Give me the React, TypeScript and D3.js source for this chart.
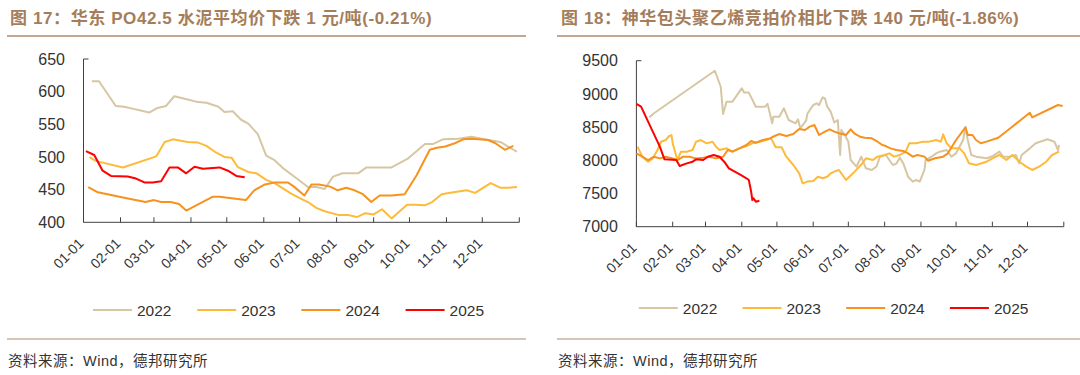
import React from "react";
import * as d3 from "d3";

const YEAR = 2001;
const seriesNames = ["2022", "2023", "2024", "2025"];
const seriesColors = ["#D7C6A3", "#FDBA3B", "#F7921E", "#FF0000"];
const monthLabels = ["01-01", "02-01", "03-01", "04-01", "05-01", "06-01", "07-01", "08-01", "09-01", "10-01", "11-01", "12-01"];

const cementTitle = "图 17：华东 PO42.5 水泥平均价下跌 1 元/吨(-0.21%)";
const peTitle = "图 18：神华包头聚乙烯竞拍价相比下跌 140 元/吨(-1.86%)";
const sourceText = "资料来源：Wind，德邦研究所";

const cementTicks = [400, 450, 500, 550, 600, 650];
const peTicks = [7000, 7500, 8000, 8500, 9000, 9500];

type Pt = [string, number];

const cement2022: Pt[] = [
  ["01-08", 616], ["01-14", 616], ["01-28", 578], ["02-04", 577], ["02-11", 574], ["02-25", 568],
  ["03-04", 575], ["03-11", 578], ["03-18", 593], ["03-25", 590], ["04-07", 584], ["04-14", 583],
  ["04-24", 577], ["04-29", 569], ["05-06", 570], ["05-13", 557], ["05-19", 551], ["05-27", 535],
  ["06-03", 502], ["06-10", 495], ["06-17", 483], ["06-25", 472], ["07-08", 454], ["07-15", 454],
  ["07-22", 451], ["07-29", 470], ["08-06", 475], ["08-19", 475], ["08-26", 484], ["09-16", 484],
  ["09-23", 491], ["09-30", 498], ["10-14", 520], ["10-21", 520], ["10-29", 527], ["11-11", 528],
  ["11-22", 531], ["12-06", 526], ["12-16", 523], ["12-30", 508],
];
const cement2023: Pt[] = [
  ["01-06", 500], ["01-11", 494], ["02-03", 484], ["03-03", 501], ["03-10", 523], ["03-17", 527],
  ["03-29", 523], ["04-07", 522], ["04-14", 517], ["04-21", 508], ["04-29", 500], ["05-05", 499],
  ["05-10", 485], ["05-19", 477], ["05-26", 475], ["06-03", 465], ["06-10", 460], ["06-17", 452],
  ["06-24", 444], ["07-01", 437], ["07-08", 431], ["07-15", 422], ["07-22", 417], ["08-03", 411],
  ["08-11", 411], ["08-18", 408], ["08-25", 414], ["09-01", 412], ["09-08", 420], ["09-16", 406],
  ["09-29", 427], ["10-06", 427], ["10-14", 426], ["10-20", 431], ["10-28", 443], ["11-03", 445],
  ["11-11", 447], ["11-18", 449], ["11-25", 445], ["12-08", 460], ["12-16", 453], ["12-23", 453],
  ["12-30", 454],
];
const cement2024: Pt[] = [
  ["01-05", 454], ["01-13", 446], ["02-03", 438], ["02-22", 431], ["03-01", 434], ["03-07", 431],
  ["03-15", 431], ["03-22", 428], ["03-28", 418], ["04-19", 439], ["04-25", 439], ["05-17", 434],
  ["05-24", 449], ["06-02", 458], ["06-10", 461], ["06-21", 461], ["06-26", 455], ["07-05", 441],
  ["07-11", 458], ["07-17", 458], ["07-26", 455], ["08-02", 449], ["08-09", 453], ["08-16", 449],
  ["08-23", 443], ["08-30", 431], ["09-06", 441], ["09-16", 441], ["09-27", 443], ["10-07", 472],
  ["10-18", 511], ["10-24", 514], ["10-31", 516], ["11-08", 521], ["11-15", 527], ["11-22", 528],
  ["12-06", 526], ["12-12", 521], ["12-20", 511], ["12-27", 517],
];
const cement2025: Pt[] = [
  ["01-03", 509], ["01-10", 503], ["01-17", 479], ["01-24", 471], ["02-07", 470], ["02-14", 467],
  ["02-21", 461], ["02-28", 461], ["03-07", 463], ["03-14", 484], ["03-21", 484], ["03-28", 475],
  ["04-04", 485], ["04-11", 482], ["04-25", 484], ["05-02", 479], ["05-09", 471], ["05-16", 469],
];

const pe2022: Pt[] = [
  ["01-12", 8647], ["01-16", 8708], ["03-09", 9349], ["03-14", 9108], ["03-15", 8908], ["03-16", 8697],
  ["03-19", 8883], ["03-24", 8883], ["04-01", 9084], ["04-03", 9020], ["04-07", 9020], ["04-13", 8807],
  ["04-21", 8807], ["04-23", 8850], ["04-27", 8557], ["04-28", 8657], ["05-03", 8657], ["05-07", 8783],
  ["05-11", 8607], ["05-17", 8557], ["05-19", 8617], ["05-21", 8482], ["05-26", 8600], ["05-27", 8700],
  ["06-01", 8833], ["06-04", 8858], ["06-06", 8830], ["06-09", 8949], ["06-11", 8933], ["06-13", 8808],
  ["06-16", 8730], ["06-19", 8570], ["06-22", 8607], ["06-24", 8080], ["06-25", 8456], ["06-28", 8380],
  ["07-01", 8280], ["07-03", 8004], ["07-08", 7904], ["07-12", 8054], ["07-16", 7879], ["07-21", 7854],
  ["07-25", 7904], ["07-28", 8054], ["08-02", 8080], ["08-08", 7929], ["08-11", 7950], ["08-14", 8040],
  ["08-17", 7950], ["08-21", 7753], ["08-25", 7678], ["08-28", 7703], ["08-31", 7678], ["09-04", 7854],
  ["09-05", 8004], ["09-10", 8054], ["09-14", 8105], ["09-17", 8130], ["09-23", 8155], ["09-27", 8055],
  ["10-01", 8105], ["10-07", 8306], ["10-09", 8497], ["10-11", 8306], ["10-14", 8080], ["10-18", 8055],
  ["10-27", 8030], ["11-01", 8060], ["11-07", 8130], ["11-10", 8055], ["11-16", 8055], ["11-21", 8080],
  ["11-24", 7955], ["11-26", 8080], ["12-03", 8180], ["12-08", 8256], ["12-18", 8316], ["12-24", 8280],
  ["12-27", 8155], ["12-28", 8230],
];
const pe2023: Pt[] = [
  ["01-02", 8205], ["01-04", 8130], ["01-06", 8054], ["01-11", 7979], ["01-15", 8029], ["01-19", 8155],
  ["01-22", 8280], ["01-26", 8305], ["01-29", 8366], ["01-31", 8380], ["02-01", 8255], ["02-03", 8130],
  ["02-05", 8004], ["02-08", 8130], ["02-13", 8130], ["02-18", 8155], ["02-21", 8280], ["02-25", 8305],
  ["03-02", 8255], ["03-07", 8280], ["03-10", 8205], ["03-13", 8155], ["03-19", 8180], ["03-24", 8130],
  ["03-30", 8180], ["04-05", 8215], ["04-10", 8255], ["04-16", 8280], ["04-22", 8305], ["04-26", 8330],
  ["04-30", 8196], ["05-05", 8196], ["05-09", 8054], ["05-15", 7929], ["05-20", 7804], ["05-23", 7653],
  ["05-27", 7679], ["06-01", 7690], ["06-05", 7753], ["06-09", 7729], ["06-13", 7753], ["06-16", 7804],
  ["06-19", 7829], ["06-23", 7854], ["06-26", 7779], ["06-29", 7704], ["07-05", 7804], ["07-09", 7879],
  ["07-13", 7955], ["07-16", 8030], ["07-22", 8005], ["07-26", 8055], ["08-01", 8080], ["08-05", 8105],
  ["08-09", 8055], ["08-14", 8080], ["08-19", 8130], ["08-22", 8256], ["08-28", 8256], ["09-03", 8281],
  ["09-08", 8281], ["09-14", 8306], ["09-18", 8280], ["09-20", 8391], ["09-23", 8256], ["09-27", 8180],
  ["10-04", 8180], ["10-08", 8105], ["10-12", 7955], ["10-18", 7929], ["10-27", 7979], ["11-01", 8030],
  ["11-07", 8080], ["11-13", 8005], ["11-18", 8080], ["11-24", 7979], ["11-30", 7904], ["12-05", 7854],
  ["12-11", 7904], ["12-17", 7979], ["12-22", 8080], ["12-28", 8130],
];
const pe2024: Pt[] = [
  ["01-01", 8105], ["01-06", 8054], ["01-11", 8004], ["01-16", 8054], ["01-21", 8029], ["01-26", 8054],
  ["02-01", 8029], ["02-05", 8004], ["02-10", 8054], ["02-15", 8054], ["02-21", 8029], ["02-27", 8040],
  ["03-04", 8054], ["03-10", 8029], ["03-16", 8054], ["03-20", 8155], ["03-24", 8130], ["03-30", 8180],
  ["04-05", 8230], ["04-09", 8290], ["04-13", 8265], ["04-19", 8305], ["04-25", 8330], ["04-29", 8366],
  ["05-03", 8395], ["05-09", 8366], ["05-15", 8395], ["05-20", 8470], ["05-25", 8457], ["05-29", 8507],
  ["06-02", 8532], ["06-06", 8381], ["06-11", 8432], ["06-15", 8467], ["06-19", 8432], ["06-23", 8407],
  ["06-29", 8381], ["07-03", 8467], ["07-06", 8407], ["07-11", 8355], ["07-15", 8341], ["07-21", 8331],
  ["07-26", 8280], ["07-30", 8230], ["08-02", 8215], ["08-06", 8180], ["08-11", 8155], ["08-17", 8140],
  ["08-21", 8105], ["08-25", 8055], ["08-29", 8080], ["09-04", 8055], ["09-07", 7994], ["09-13", 8030],
  ["09-20", 8055], ["09-24", 8105], ["10-01", 8306], ["10-09", 8497], ["10-11", 8381], ["10-15", 8381],
  ["10-18", 8306], ["10-22", 8256], ["10-27", 8281], ["11-06", 8340], ["11-18", 8506], ["12-03", 8717],
  ["12-05", 8647], ["12-27", 8833], ["12-31", 8818],
];
const pe2025: Pt[] = [
  ["01-01", 8848], ["01-05", 8808], ["01-09", 8657], ["01-15", 8431], ["01-21", 8205], ["01-25", 8015],
  ["02-04", 8004], ["02-07", 7914], ["02-13", 7954], ["02-18", 7979], ["02-21", 8015], ["02-27", 8004],
  ["03-03", 8054], ["03-08", 8079], ["03-13", 8054], ["03-17", 7979], ["03-21", 7879], ["03-26", 7829],
  ["03-31", 7779], ["04-05", 7729], ["04-07", 7703], ["04-09", 7527], ["04-10", 7402], ["04-11", 7427],
  ["04-13", 7377], ["04-16", 7392],
];

const parse = d3.timeParse("%Y-%m-%d");
const toDate = (s: string) => parse(`${YEAR}-${s}`) as Date;

const FONT = "'Liberation Sans', Arial, 'Noto Sans CJK SC', sans-serif";
const CJK = "'Liberation Sans', 'Noto Sans CJK SC', sans-serif";
const TITLE_COLOR = "#A57D5A";
const RULE_COLOR = "#AE8B6F";

interface PanelProps {
  title: string;
  series: Pt[][];
  yTicks: number[];
  x0: number; x1: number; yTop: number; yBottom: number;
  left: number; right: number; titleX: number; legendX: number; legendStep: number; legendY: number;
}

function Panel(p: PanelProps) {
  const x = d3.scaleTime().domain([new Date(YEAR, 0, 1), new Date(YEAR + 1, 0, 1)]).range([p.x0, p.x1]);
  const y = d3.scaleLinear().domain([p.yTicks[0], p.yTicks[p.yTicks.length - 1]]).range([p.yBottom, p.yTop]);
  const line = d3.line<Pt>().x((d) => x(toDate(d[0]))).y((d) => y(d[1]));
  const monthTicks = d3.timeMonth.range(new Date(YEAR, 0, 1), new Date(YEAR + 1, 0, 2));
  return (
    <g>
      <text x={p.titleX} y={24} fontFamily={CJK} fontWeight="bold" fontSize={17} letterSpacing={0.6} fill={TITLE_COLOR}>{p.title}</text>
      <line x1={p.left} x2={p.right} y1={36} y2={36} stroke={RULE_COLOR} strokeWidth={1.5} />
      {p.yTicks.map((t) => (
        <text key={t} x={p.x0 - 18.5} y={y(t)} dy="0.36em" textAnchor="end" fontFamily={FONT} fontSize={16} fill="#333">{t}</text>
      ))}
      <line x1={p.x0} x2={p.x0} y1={p.yTop} y2={p.yBottom} stroke="#404040" strokeWidth={1} />
      <line x1={p.x0} x2={p.x0 + 5} y1={p.yTop} y2={p.yTop} stroke="#404040" strokeWidth={1} />
      <line x1={p.x0} x2={p.x1} y1={p.yBottom} y2={p.yBottom} stroke="#404040" strokeWidth={1} />
      {monthTicks.map((d, i) => (
        <line key={i} x1={x(d)} x2={x(d)} y1={p.yBottom - 5} y2={p.yBottom} stroke="#404040" strokeWidth={1} />
      ))}
      {monthTicks.slice(0, 12).map((d, i) => (
        <text key={i} transform={`translate(${x(d) + 1},${p.yBottom + 22}) rotate(-45)`} textAnchor="end" fontFamily={FONT} fontSize={14} fill="#333">{monthLabels[i]}</text>
      ))}
      {p.series.map((s, i) => (
        <path key={i} d={line(s) || ""} fill="none" stroke={seriesColors[i]} strokeWidth={2} strokeLinejoin="round" />
      ))}
      {seriesNames.map((n, i) => (
        <g key={n}>
          <line x1={p.legendX + i * p.legendStep} x2={p.legendX + i * p.legendStep + 39} y1={p.legendY} y2={p.legendY} stroke={seriesColors[i]} strokeWidth={2} />
          <text x={p.legendX + i * p.legendStep + 44} y={p.legendY} dy="0.36em" fontFamily={FONT} fontSize={15.5} fill="#333">{n}</text>
        </g>
      ))}
      <line x1={p.left} x2={p.right} y1={339} y2={339} stroke={RULE_COLOR} strokeWidth={1.2} />
      <text x={p.left + 1} y={366} fontFamily={CJK} fontSize={14.5} letterSpacing={0.5} fill="#333">{sourceText}</text>
    </g>
  );
}

export default function App() {
  return (
    <svg width={1080} height={375} style={{ position: "absolute", left: 0, top: 0, background: "#fff" }}>
      <rect width={1080} height={375} fill="#fff" />
      <Panel title={cementTitle} series={[cement2022, cement2023, cement2024, cement2025]} yTicks={cementTicks}
        x0={83.5} x1={519.3} yTop={59} yBottom={222.3} left={7} right={526} titleX={10}
        legendX={93} legendStep={104.2} legendY={310} />
      <Panel title={peTitle} series={[pe2022, pe2023, pe2024, pe2025]} yTicks={peTicks}
        x0={636.4} x1={1063.8} yTop={60.7} yBottom={226.7} left={557} right={1080} titleX={561}
        legendX={638.8} legendStep={103.7} legendY={308} />
    </svg>
  );
}
